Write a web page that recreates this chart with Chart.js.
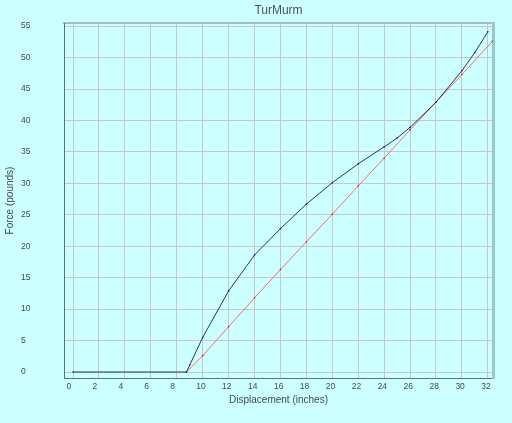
<!DOCTYPE html>
<html>
<head>
<meta charset="utf-8">
<script src="https://cdn.jsdelivr.net/npm/chart.js@4/dist/chart.umd.min.js"></script>
<style>
  html, body { margin: 0; padding: 0; background: #ccffff; }
  #wrap { width: 512px; height: 423px; }
</style>
</head>
<body>
<div id="wrap"><canvas id="chart" width="512" height="423"></canvas></div>
<script>
// Measured curve (displacement in inches, force in pounds)
const measuredX = [0, 8.75, 9, 10, 12, 14, 16, 18, 20, 22, 24, 25, 26, 28, 30, 31, 32];
const measuredY = [0, 0, 1.1, 5.5, 12.9, 18.6, 22.8, 26.7, 30.1, 33.1, 35.8, 37.2, 38.9, 42.9, 47.9, 50.8, 54.1];

// Reference line
const refX = [8.75, 10, 12, 14, 16, 18, 20, 22, 24, 26, 28, 30, 32.36];
const refY = [0, 2.6, 7.2, 11.8, 16.3, 20.7, 25.1, 29.6, 34.0, 38.5, 42.9, 47.3, 52.6];

const xTicks = [0, 2, 4, 6, 8, 10, 12, 14, 16, 18, 20, 22, 24, 26, 28, 30, 32];
const yTicks = [0, 5, 10, 15, 20, 25, 30, 35, 40, 45, 50, 55];

const gridColor = '#c9c6c6';
const textColor = '#3f4d4d';

Chart.defaults.font.family = "'Liberation Sans', Arial, sans-serif";

const toPoints = (xs, ys) => xs.map((x, i) => ({ x: x, y: ys[i] }));

new Chart(document.getElementById('chart').getContext('2d'), {
    type: 'scatter',
    data: {
        datasets: [
            {
                label: 'Measured',
                data: toPoints(measuredX, measuredY),
                showLine: true,
                borderColor: '#2a3a4a',
                borderWidth: 1,
                pointRadius: 0.8,
                pointBackgroundColor: '#0000ee',
                pointBorderWidth: 0,
                tension: 0,
            },
            {
                label: 'Reference',
                data: toPoints(refX, refY),
                showLine: true,
                borderColor: '#ff6a6a',
                borderWidth: 1,
                pointRadius: 0.8,
                pointBackgroundColor: '#e00000',
                pointBorderWidth: 0,
                tension: 0,
            }
        ]
    },
    options: {
        responsive: false,
        animation: false,
        layout: { padding: { left: 21, right: 0, top: 0, bottom: 0 } },
        plugins: {
            legend: { display: false },
            tooltip: { enabled: false },
            title: { display: false }
        },
        scales: {
            x: {
                type: 'linear',
                position: 'bottom',
                min: -0.7,
                max: 32.4,
                afterBuildTicks: s => { s.ticks = xTicks.map(v => ({ value: v })); },
                afterFit: s => { s.height = 45; },
                grid: { color: gridColor, drawTicks: false },
                border: { color: '#5a7373', width: 1 },
                ticks: {
                    align: 'start',
                    labelOffset: -6.5,
                    padding: 3.4,
                    autoSkip: false,
                    maxRotation: 0,
                    color: textColor,
                    font: { size: 8.5 }
                },
                title: {
                    display: true,
                    text: 'Displacement (inches)',
                    color: textColor,
                    font: { size: 10 },
                    padding: { top: 0, bottom: 17 }
                }
            },
            x2: {
                type: 'linear',
                axis: 'x',
                position: 'top',
                afterFit: s => { s.height = 23; },
                grid: { display: false, drawTicks: false },
                ticks: { display: false },
                border: { color: '#9dbfbf', width: 2 },
                title: {
                    display: true,
                    text: 'TurMurm',
                    color: '#4a5555',
                    font: { size: 12 },
                    padding: { top: 3.3, bottom: 0 }
                }
            },
            y: {
                type: 'linear',
                position: 'left',
                min: -0.95,
                max: 55.5,
                afterBuildTicks: s => { s.ticks = yTicks.map(v => ({ value: v })); },
                afterFit: s => { s.width = 43; },
                grid: { color: gridColor, drawTicks: false },
                border: { color: '#5a7373', width: 1 },
                ticks: {
                    crossAlign: 'far',
                    color: textColor,
                    font: { size: 8.5 }
                },
                title: {
                    display: true,
                    text: 'Force (pounds)',
                    color: textColor,
                    font: { size: 10 },
                    padding: { top: -17, bottom: 0 }
                }
            },
            y2: {
                type: 'linear',
                axis: 'y',
                position: 'right',
                afterFit: s => { s.width = 19; },
                grid: { display: false, drawTicks: false },
                ticks: { display: false },
                border: { color: '#99c9c9', width: 3 }
            }
        }
    }
});
</script>
</body>
</html>
